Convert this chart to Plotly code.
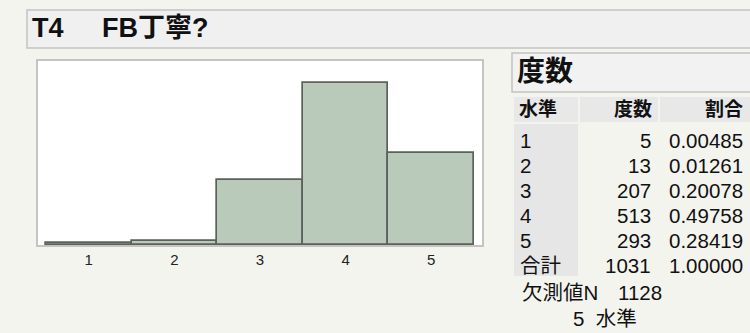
import plotly.graph_objects as go

# ---- data ----
levels = ["1", "2", "3", "4", "5"]
counts = [5, 13, 207, 513, 293]
props = ["0.00485", "0.01261", "0.20078", "0.49758", "0.28419"]
total_count = 1031
total_prop = "1.00000"
missing_n = 1128
n_levels = 5
title_left = "T4"
title_right = "FB丁寧?"

# ---- geometry ----
W, H = 750, 333
L, R, T, B = 38, 268, 61, 88
PW, PH = W - L - R, H - T - B


def px(x):
    return (x - L) / PW


def py(y):
    return (H - B - y) / PH


FONT = "Liberation Sans, Arial, Noto Sans CJK JP, sans-serif"
BG = "#f4f4ef"
TXT = "#111111"
TS = 20.5

fig = go.Figure()
fig.add_trace(go.Bar(
    x=[int(v) for v in levels], y=counts, width=1.0,
    marker=dict(color="#bacaba", line=dict(color="#5b625b", width=1.7)),
    hoverinfo="skip",
))

shapes = []
annots = []


def text(x, y, s, anchor="left", size=TS):
    annots.append(dict(xref="paper", yref="paper", x=px(x), y=py(y), text=s,
                       xanchor=anchor, yanchor="middle", showarrow=False,
                       font=dict(size=size, family=FONT, color=TXT)))


def rect(x0, y0, x1, y1, fill, line=None):
    shapes.append(dict(type="rect", xref="paper", yref="paper",
                       x0=px(x0), x1=px(x1), y0=py(y1), y1=py(y0),
                       fillcolor=fill, layer="below",
                       line=line if line else dict(width=0)))


# title box
rect(27, 10, 752, 48, "#f0f0f0", dict(color="#c2c2c2", width=1.5))
text(30, 28, "<b>" + title_left + "</b>", size=27)
text(100, 28, "<b>" + title_right + "</b>", size=27)

# frequency heading box
rect(512, 53, 752, 92, "#f2f2f2", dict(color="#c2c2c2", width=1.5))
text(515, 71, "<b>度数</b>", size=28)

# header cells
hdr_top, hdr_bot = 97, 122
for x0, x1 in [(514, 578), (580, 658), (660, 752)]:
    rect(x0, hdr_top, x1, hdr_bot, "#e8e8e8")
# level column grey
rect(514, 124, 578, 276, "#e6e6e6")

hy = 109
text(517, hy, "<b>水準</b>", size=19)
text(654, hy, "<b>度数</b>", "right", size=19)
text(745, hy, "<b>割合</b>", "right", size=19)

row_y0, row_dy = 140, 25
rows = list(zip(levels, [str(c) for c in counts], props)) + [("合計", str(total_count), total_prop)]
for i, (a, b, c) in enumerate(rows):
    yy = row_y0 + i * row_dy
    text(518, yy, a)
    text(653, yy, b, "right")
    text(745, yy, c, "right")

text(520, 292, "欠測値N")
text(664, 292, str(missing_n), "right")
text(571, 318, f"{n_levels}  水準")

fig.update_layout(
    width=W, height=H, margin=dict(l=L, r=R, t=T, b=B, pad=0),
    paper_bgcolor=BG, plot_bgcolor="white", showlegend=False, bargap=0,
    shapes=shapes, annotations=annots,
    xaxis=dict(range=[0.407, 5.593], tickmode="array", tickvals=[1, 2, 3, 4, 5], ticktext=levels,
               showgrid=False, zeroline=False, showline=True, mirror=True,
               linecolor="#c4c4c4", linewidth=1.5, ticks="", fixedrange=True,
               tickfont=dict(size=15, family=FONT, color="#222")),
    yaxis=dict(range=[0, 584], showticklabels=False, showgrid=False, zeroline=False,
               showline=True, mirror=True, linecolor="#c4c4c4", linewidth=1.5, ticks="",
               fixedrange=True),
)

fig.write_html("out.html", config={"displayModeBar": False})

with open("out.html", "r", encoding="utf-8") as f:
    html = f.read()
html = html.replace("<body>", '<body style="margin:0;padding:0;overflow:hidden">', 1)
with open("out.html", "w", encoding="utf-8") as f:
    f.write(html)
